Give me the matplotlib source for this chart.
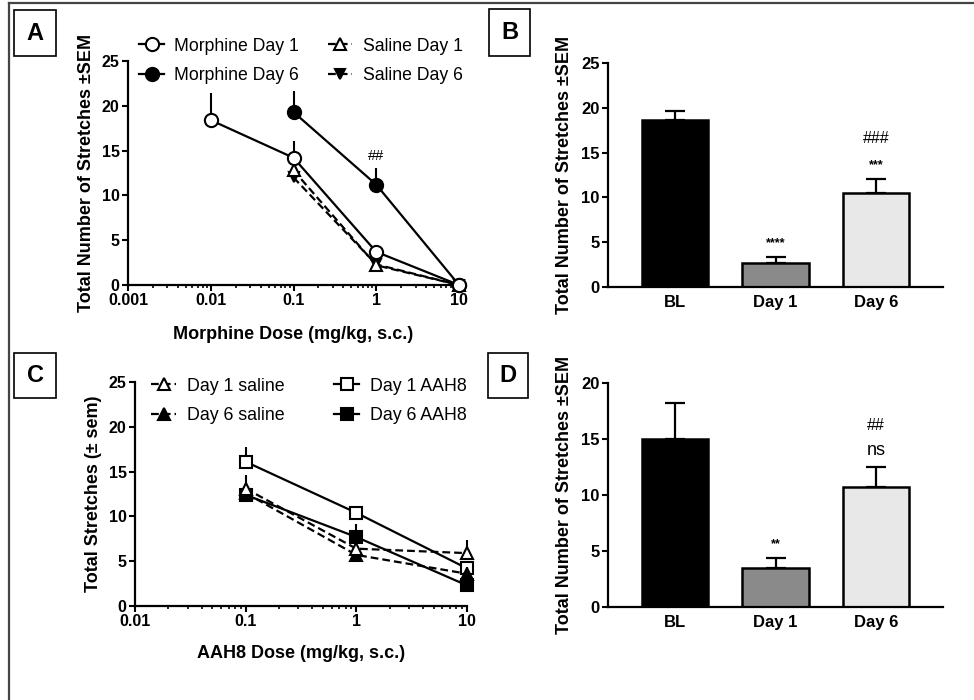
import numpy as np
import matplotlib
matplotlib.use('Agg')
import matplotlib.pyplot as plt
from matplotlib.lines import Line2D
from matplotlib.patches import Rectangle
from matplotlib.ticker import LogLocator, NullFormatter

plt.rcParams['font.family'] = ['Liberation Sans', 'DejaVu Sans']

# --- Panel A: morphine dose response ---
morph_d1_dose = [0.01, 0.1, 1, 10]
morph_d1 = [18.4, 14.2, 3.7, 0]
morph_d1_err = [3.0, 1.9, 0.3, 0]
morph_d6_dose = [0.1, 1, 10]
morph_d6 = [19.3, 11.2, 0]
morph_d6_err = [2.3, 1.9, 0]
sal_dose = [0.1, 1, 10]
sal_d1 = [12.8, 2.2, 0]
sal_d1_err = [1.0, 0.4, 0]
sal_d6 = [12.0, 2.3, 0]
sal_d6_err = [0.8, 0.4, 0]

# --- Panel B / D: bars ---
bar_labels = ['BL', 'Day 1', 'Day 6']
b_vals = [18.6, 2.7, 10.5]
b_err = [1.0, 0.6, 1.5]
b_marks = ['', '****', '***']
b_hash = ['', '', '###']
d_vals = [15.0, 3.5, 10.7]
d_err = [3.2, 0.9, 1.8]
d_marks = ['', '**', 'ns']
d_hash = ['', '', '##']
bar_colors = ['#000000', '#8a8a8a', '#e8e8e8']

# --- Panel C: AAH8 dose response ---
aah_dose = [0.1, 1, 10]
c_sal_d1 = [13.1, 6.4, 5.9]
c_sal_d1_err = [1.5, 0.6, 1.5]
c_sal_d6 = [12.6, 5.7, 3.6]
c_sal_d6_err = [0.8, 0.6, 0.8]
c_aah_d1 = [16.1, 10.4, 4.2]
c_aah_d1_err = [1.7, 0.6, 0.6]
c_aah_d6 = [12.4, 7.7, 2.3]
c_aah_d6_err = [0.6, 1.5, 0.5]

W, H = 974, 700
fig = plt.figure(figsize=(W / 100, H / 100), dpi=100)


def px_axes(x0, x1, ytop, ybot):
    return fig.add_axes([x0 / W, 1 - ybot / H, (x1 - x0) / W, (ybot - ytop) / H])


def style_axes(ax, tick_size):
    for s in ['top', 'right']:
        ax.spines[s].set_visible(False)
    for s in ['left', 'bottom']:
        ax.spines[s].set_linewidth(1.6)
    ax.tick_params(which='major', direction='out', length=4, width=1.5,
                   labelsize=tick_size, pad=2)
    ax.tick_params(which='minor', direction='out', length=2.5, width=1.2)
    for lab in ax.get_xticklabels() + ax.get_yticklabels():
        lab.set_fontweight('bold')


def series(ax, x, y, err, marker, mfc, ls, ms, label, z):
    yerr = [np.zeros(len(err)), err]
    ax.errorbar(x, y, yerr=yerr, fmt='none', ecolor='black', elinewidth=1.5,
                capsize=0, clip_on=False, zorder=z - 0.5)
    ax.plot(x, y, color='black', lw=1.6, ls=ls, marker=marker, ms=ms,
            mfc=mfc, mec='black', mew=1.5, clip_on=False, zorder=z, label=label)


def log_axis(ax, lo, hi):
    ax.set_xscale('log')
    ax.set_xlim(lo, hi)
    ax.xaxis.set_minor_locator(LogLocator(base=10, subs=np.arange(2, 10), numticks=20))
    ax.xaxis.set_minor_formatter(NullFormatter())
    ks = range(int(round(np.log10(lo))), int(round(np.log10(hi))) + 1)
    ax.set_xticks([10.0 ** k for k in ks])
    ax.set_xticklabels([('%g' % (10.0 ** k)) for k in ks])


dash = (0, (3.5, 1.8))

# Panel A
axA = px_axes(128, 459, 61, 285)
series(axA, morph_d1_dose, morph_d1, morph_d1_err, 'o', 'white', '-', 9.5, 'Morphine Day 1', 8)
series(axA, morph_d6_dose, morph_d6, morph_d6_err, 'o', 'black', '-', 9.5, 'Morphine Day 6', 7)
series(axA, sal_dose, sal_d1, sal_d1_err, '^', 'white', dash, 8.5, 'Saline Day 1', 6)
series(axA, sal_dose, sal_d6, sal_d6_err, 'v', 'black', dash, 7.0, 'Saline Day 6', 5)
log_axis(axA, 0.001, 10)
axA.set_ylim(0, 25)
axA.set_yticks([0, 5, 10, 15, 20, 25])
style_axes(axA, 11.5)
axA.set_ylabel('Total Number of Stretches \u00b1SEM', fontsize=13, fontweight='bold', labelpad=5)
axA.set_xlabel('Morphine Dose (mg/kg, s.c.)', fontsize=13, fontweight='bold', labelpad=13)
axA.text(1, 13.6, '##', ha='center', va='bottom', fontsize=10.5)
handles, labels = axA.get_legend_handles_labels()
fig.legend(handles, labels, ncol=2, loc='center', bbox_to_anchor=(301 / W, 1 - 61 / H),
           frameon=False, fontsize=12.7, handlelength=1.4, handletextpad=0.6,
           columnspacing=1.6, labelspacing=0.72, borderpad=0)

# Panel C
axC = px_axes(135, 467, 382, 606)
series(axC, aah_dose, c_sal_d1, c_sal_d1_err, '^', 'white', dash, 9, 'Day 1 saline', 8)
series(axC, aah_dose, c_sal_d6, c_sal_d6_err, '^', 'black', dash, 9, 'Day 6 saline', 7)
series(axC, aah_dose, c_aah_d1, c_aah_d1_err, 's', 'white', '-', 9, 'Day 1 AAH8', 6)
series(axC, aah_dose, c_aah_d6, c_aah_d6_err, 's', 'black', '-', 8.5, 'Day 6 AAH8', 5)
log_axis(axC, 0.01, 10)
axC.set_ylim(0, 25)
axC.set_yticks([0, 5, 10, 15, 20, 25])
style_axes(axC, 11.5)
axC.set_ylabel('Total Stretches (\u00b1 sem)', fontsize=13, fontweight='bold', labelpad=5)
axC.set_xlabel('AAH8 Dose (mg/kg, s.c.)', fontsize=13, fontweight='bold', labelpad=11)
handles, labels = axC.get_legend_handles_labels()
fig.legend(handles, labels, ncol=2, loc='center', bbox_to_anchor=(309 / W, 1 - 401 / H),
           frameon=False, fontsize=12.8, handlelength=1.4, handletextpad=0.6,
           columnspacing=2.8, labelspacing=0.72, borderpad=0)


# Bar panels
def bar_panel(ax, vals, err, marks, hashes, ymax, step, mark_sizes):
    x = np.arange(len(vals))
    ax.bar(x, vals, width=0.66, color=bar_colors, edgecolor='black', linewidth=1.8, zorder=2)
    ax.errorbar(x, vals, yerr=[np.zeros(len(err)), err], fmt='none', ecolor='black',
                elinewidth=1.6, capsize=7, capthick=1.6, zorder=1)
    ax.set_xlim(-0.667, 2.667)
    ax.set_ylim(0, ymax)
    ax.set_yticks(np.arange(0, ymax + 1, step))
    ax.set_xticks(x)
    ax.set_xticklabels(bar_labels)
    style_axes(ax, 12)
    ax.tick_params(axis='x', length=0, pad=6)
    ax.set_ylabel('Total Number of Stretches \u00b1SEM', fontsize=13, fontweight='bold', labelpad=6)
    for i in range(len(vals)):
        top = vals[i] + err[i]
        if marks[i]:
            sz, wt = mark_sizes[marks[i]]
            ax.text(i, top + ymax * 0.035, marks[i], ha='center', va='bottom',
                    fontsize=sz, fontweight=wt)
        if hashes[i]:
            ax.text(i, top + ymax * 0.15, hashes[i], ha='center', va='bottom',
                    fontsize=11.5)


axB = px_axes(608, 943, 63, 287)
bar_panel(axB, b_vals, b_err, b_marks, b_hash, 25, 5,
          {'****': (9, 'bold'), '***': (9, 'bold')})
axD = px_axes(608, 943, 383, 607)
bar_panel(axD, d_vals, d_err, d_marks, d_hash, 20, 5,
          {'**': (9, 'bold'), 'ns': (13, 'normal')})

# panel letters in boxes
for letter, (x0, y0, x1, y1) in zip('ABCD', [(14, 10, 56, 56), (489, 9, 530, 56),
                                           (14, 353, 56, 398), (488, 353, 528, 398)]):
    fig.add_artist(Rectangle((x0 / W, 1 - y1 / H), (x1 - x0) / W, (y1 - y0) / H,
                             transform=fig.transFigure, fill=False, lw=1.2, ec='black'))
    fig.text((x0 + x1) / 2 / W, 1 - (y0 + y1) / 2 / H, letter, ha='center', va='center',
             fontsize=17, fontweight='bold')

# outer frame (top and left only)
fig.add_artist(Line2D([9 / W, 1], [1 - 3 / H, 1 - 3 / H], transform=fig.transFigure,
                      color='#444444', lw=1.6))
fig.add_artist(Line2D([9 / W, 9 / W], [0, 1 - 3 / H], transform=fig.transFigure,
                      color='#444444', lw=1.6))

fig.savefig('out.png', dpi=100)
